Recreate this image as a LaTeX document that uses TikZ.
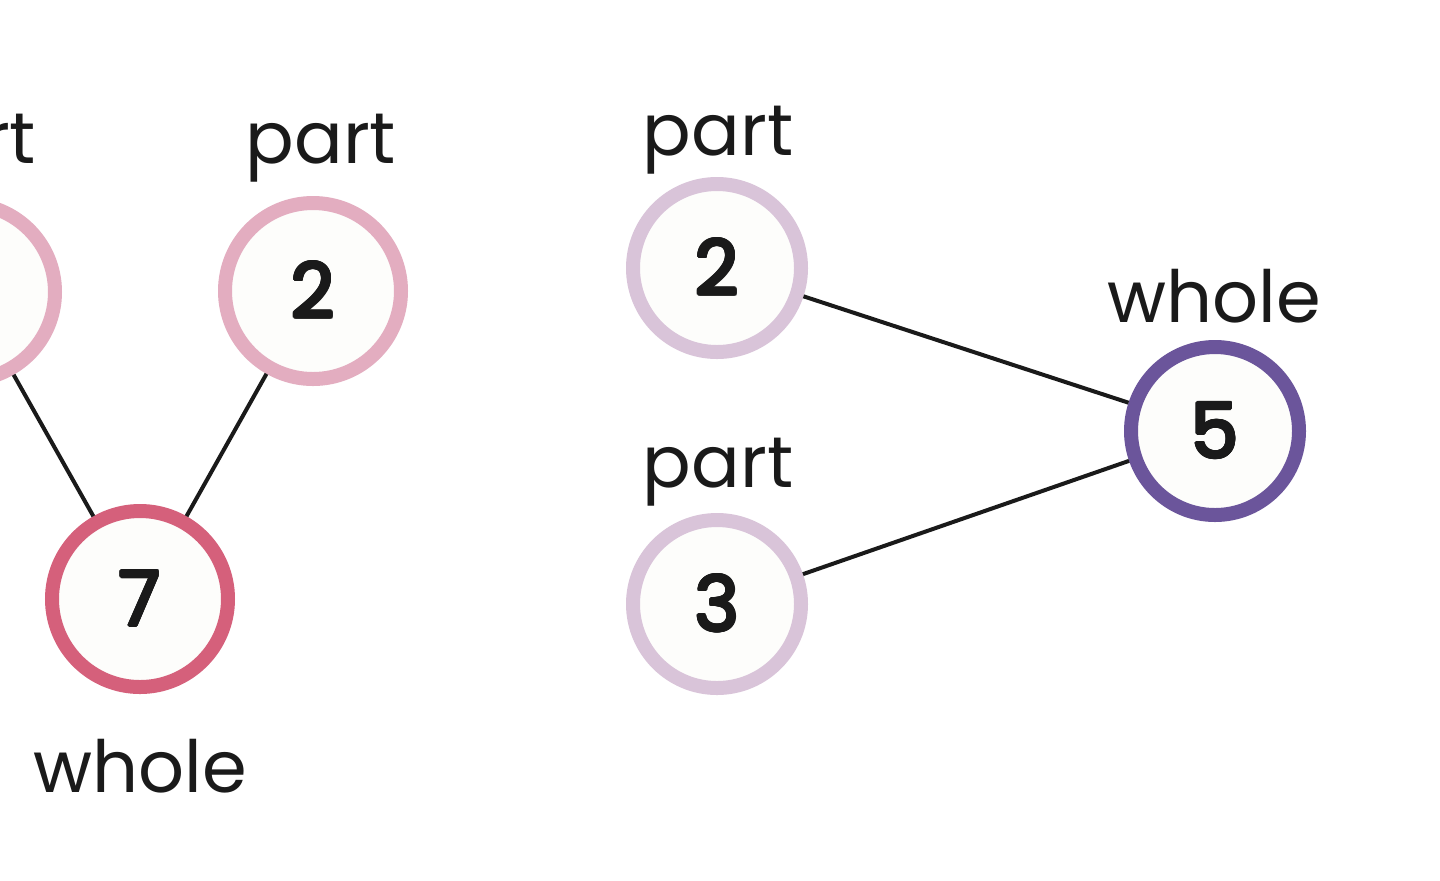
\documentclass[tikz,border=0pt]{standalone}
\usepackage{fontspec}
\setmainfont{Poppins}
\usepackage{contour}
\contourlength{0.7pt}
\contournumber{16}
\definecolor{pinkpart}{HTML}{E3ADC0}
\definecolor{pinkwhole}{HTML}{D5607B}
\definecolor{mauvepart}{HTML}{D9C4D9}
\definecolor{purplewhole}{HTML}{6B559B}
\definecolor{ink}{HTML}{1A1A1A}
\definecolor{cfill}{HTML}{FDFDFB}
\newcommand{\numtxt}[1]{\contour{ink}{#1}}
\begin{document}
\begin{tikzpicture}[x=0.5pt,y=-0.5pt,
  numcircle/.style={circle,draw=#1,line width=7pt,fill=cfill,minimum size=88pt,inner sep=0pt,outer sep=3.5pt,
    font=\fontsize{38}{44}\selectfont,text=ink},
  lbl/.style={anchor=base,font=\fontsize{36}{42}\selectfont,text=ink},
  link/.style={draw=ink,line width=2pt}]
\useasboundingbox (0,0) rectangle (1440,880);
\fill[white] (0,0) rectangle (1440,880);
\clip (0,0) rectangle (1440,880);
% left group
\node[numcircle=pinkpart] (lp1) at (-33,292) {};
\node[numcircle=pinkpart] (lp2) at (313,291) {\numtxt{2}};
\node[numcircle=pinkwhole] (lw) at (140,599) {\numtxt{7}};
\node[lbl] (lp1t) at (-39,163) {part};
\node[lbl] (lp2t) at (321,163) {part};
\node[lbl] (lwt) at (140,792) {whole};
\draw[link] (lp1) -- (lw);
\draw[link] (lp2) -- (lw);
% right group
\node[numcircle=mauvepart,minimum size=84pt] (rp1) at (717,268) {\numtxt{2}};
\node[numcircle=mauvepart,minimum size=84pt] (rp2) at (717,604) {\numtxt{3}};
\node[numcircle=purplewhole,minimum size=84pt] (rw) at (1215,431) {\numtxt{5}};
\node[lbl] (rp1t) at (718,155) {part};
\node[lbl] (rp2t) at (718,487) {part};
\node[lbl] (rwt) at (1214,322) {whole};
\draw[link] (rp1) -- (rw);
\draw[link] (rp2) -- (rw);
\end{tikzpicture}
\end{document}
